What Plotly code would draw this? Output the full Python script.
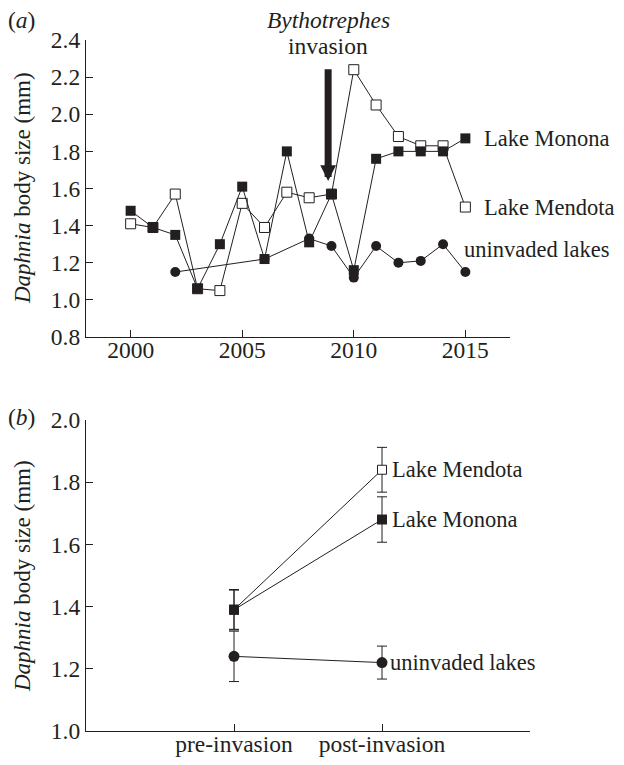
import plotly.graph_objects as go

# ---------------- data: panel (a) ----------------
years = list(range(2000, 2016))
monona = [1.48, 1.39, 1.35, 1.06, 1.30, 1.61, 1.22, 1.80, 1.31, 1.57, 1.16, 1.76, 1.80, 1.80, 1.80, 1.87]
mendota = [1.41, 1.39, 1.57, 1.06, 1.05, 1.52, 1.39, 1.58, 1.55, 1.57, 2.24, 2.05, 1.88, 1.83, 1.83, 1.50]
uninv_years = [2002, 2006, 2008, 2009, 2010, 2011, 2012, 2013, 2014, 2015]
uninvaded = [1.15, 1.22, 1.33, 1.29, 1.12, 1.29, 1.20, 1.21, 1.30, 1.15]
year_ticks = [2000, 2005, 2010, 2015]
invasion_year = 2008.85

# ---------------- data: panel (b) ----------------
periods = ["pre-invasion", "post-invasion"]
mendota_b = [1.39, 1.84]
mendota_b_err = [0.065, 0.072]
monona_b = [1.39, 1.68]
monona_b_err = [0.063, 0.073]
uninv_b = [1.24, 1.22]
uninv_b_err = [0.081, 0.053]

FONT = "Liberation Serif"
INK = "#231f20"
FS = 23.5
LFS = 22.5

# page has an 8px body margin; figure sized to fit inside the 624x765 window
OFF = 8
W, H = 624 - 2 * OFF, 765 - 2 * OFF
def px_x(p):
    return (p - OFF) / W
def px_y(p):
    return 1 - (p - OFF) / H

fig = go.Figure()

line_style = dict(color=INK, width=1)

# panel (a)
fig.add_trace(go.Scatter(x=years, y=mendota, mode="lines+markers", xaxis="x", yaxis="y",
                         line=line_style,
                         marker=dict(symbol="square", size=10, color="white", line=dict(color=INK, width=1))))
fig.add_trace(go.Scatter(x=uninv_years, y=uninvaded, mode="lines+markers", xaxis="x", yaxis="y",
                         line=line_style,
                         marker=dict(symbol="circle", size=10, color=INK, line=dict(width=0))))
fig.add_trace(go.Scatter(x=years, y=monona, mode="lines+markers", xaxis="x", yaxis="y",
                         line=line_style,
                         marker=dict(symbol="square", size=10, color=INK, line=dict(width=0))))

# panel (b)
err = lambda arr: dict(type="data", array=arr, visible=True, color=INK, thickness=1, width=5)
fig.add_trace(go.Scatter(x=periods, y=uninv_b, error_y=err(uninv_b_err), mode="lines+markers",
                         xaxis="x2", yaxis="y2", line=line_style,
                         marker=dict(symbol="circle", size=11, color=INK, line=dict(width=0))))
fig.add_trace(go.Scatter(x=periods, y=mendota_b, error_y=err(mendota_b_err), mode="lines+markers",
                         xaxis="x2", yaxis="y2", line=line_style,
                         marker=dict(symbol="square", size=9, color="white", line=dict(color=INK, width=1))))
fig.add_trace(go.Scatter(x=periods, y=monona_b, error_y=err(monona_b_err), mode="lines+markers",
                         xaxis="x2", yaxis="y2", line=line_style,
                         marker=dict(symbol="square", size=10, color=INK, line=dict(width=0))))

axis_common = dict(showline=True, linecolor=INK, linewidth=1.3, ticks="inside", ticklen=7,
                   tickcolor=INK, tickwidth=1.3, showgrid=False, zeroline=False,
                   tickfont=dict(family=FONT, size=FS, color=INK), mirror=False,
                   automargin=False)

fig.update_layout(
    width=W, height=H,
    margin=dict(l=0, r=0, t=0, b=0, pad=0),
    paper_bgcolor="white", plot_bgcolor="white",
    showlegend=False,
    font=dict(family=FONT, size=FS, color=INK),
    xaxis=dict(domain=[px_x(86), px_x(510)], range=[1998, 2017], tickvals=year_ticks,
               anchor="y", ticklabelstandoff=-8, **axis_common),
    yaxis=dict(domain=[px_y(337), px_y(40)], range=[0.8, 2.4], dtick=0.2, tick0=0.8,
               tickformat=".1f", anchor="x", **axis_common),
    xaxis2=dict(domain=[px_x(86), px_x(530)], type="category", range=[-1, 2],
                anchor="y2", ticklabelstandoff=-8, **axis_common),
    yaxis2=dict(domain=[px_y(731), px_y(420)], range=[1.0, 2.0], dtick=0.2, tick0=1.0,
                tickformat=".1f", anchor="x2", **axis_common),
)

ann = []
# series labels panel (a)
ann.append(dict(x=years[-1], y=monona[-1], xref="x", yref="y", text="Lake Monona",
                font=dict(size=LFS), xanchor="left", yanchor="middle", xshift=17, showarrow=False))
ann.append(dict(x=years[-1], y=mendota[-1], xref="x", yref="y", text="Lake Mendota",
                font=dict(size=LFS), xanchor="left", yanchor="middle", xshift=17, showarrow=False))
ann.append(dict(x=years[-1], y=1.27, xref="x", yref="y", text="uninvaded lakes",
                font=dict(size=LFS), xanchor="left", yanchor="middle", xshift=-3, showarrow=False))
# invasion arrow + label
ann.append(dict(x=invasion_year, y=1.64, xref="x", yref="y", ax=invasion_year, ay=2.25,
                axref="x", ayref="y", text="", showarrow=True, arrowhead=2,
                arrowsize=0.45, arrowwidth=7, arrowcolor=INK))
ann.append(dict(x=invasion_year, y=px_y(20), xref="x", yref="paper",
                text="<i>Bythotrephes</i>", showarrow=False,
                xanchor="center", yanchor="middle"))
ann.append(dict(x=invasion_year, y=px_y(46), xref="x", yref="paper",
                text="invasion", showarrow=False,
                xanchor="center", yanchor="middle"))
# panel letters
ann.append(dict(x=px_x(6), y=px_y(20), xref="paper", yref="paper", text="(<i>a</i>)",
                xanchor="left", yanchor="middle", showarrow=False))
ann.append(dict(x=px_x(6), y=px_y(417), xref="paper", yref="paper", text="(<i>b</i>)",
                xanchor="left", yanchor="middle", showarrow=False))
# y titles
ann.append(dict(x=px_x(22), y=px_y(188), xref="paper", yref="paper",
                text="<i>Daphnia</i> body size (mm)", textangle=-90, font=dict(size=23),
                xanchor="center", yanchor="middle", showarrow=False))
ann.append(dict(x=px_x(22), y=px_y(576), xref="paper", yref="paper",
                text="<i>Daphnia</i> body size (mm)", textangle=-90, font=dict(size=23),
                xanchor="center", yanchor="middle", showarrow=False))
# series labels panel (b)
ann.append(dict(x=periods[1], y=mendota_b[1], xref="x2", yref="y2", text="Lake Mendota",
                font=dict(size=LFS), xanchor="left", yanchor="middle", xshift=8, showarrow=False))
ann.append(dict(x=periods[1], y=monona_b[1], xref="x2", yref="y2", text="Lake Monona",
                font=dict(size=LFS), xanchor="left", yanchor="middle", xshift=8, showarrow=False))
ann.append(dict(x=periods[1], y=uninv_b[1], xref="x2", yref="y2", text="uninvaded lakes",
                font=dict(size=LFS), xanchor="left", yanchor="middle", xshift=6, showarrow=False))

fig.update_layout(annotations=ann)

fig.write_html("out.html")
